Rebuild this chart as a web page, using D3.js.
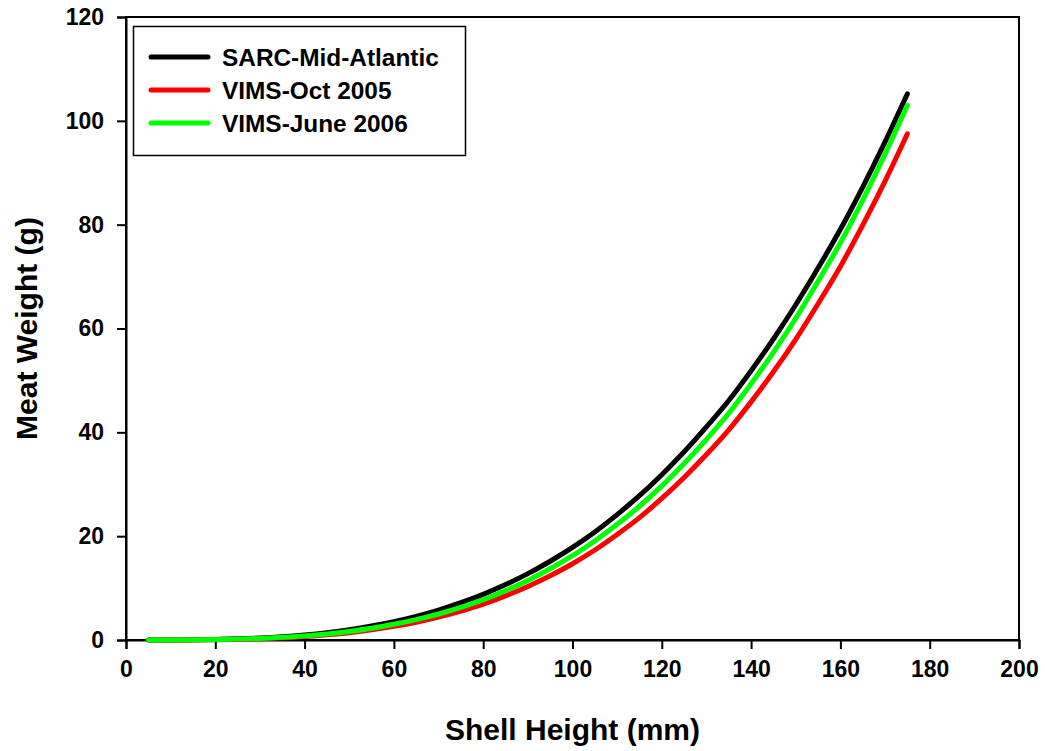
<!DOCTYPE html>
<html>
<head>
<meta charset="utf-8">
<script src="https://cdn.jsdelivr.net/npm/d3@7"></script>
<style>
  body { margin: 0; background: #fff; }
  svg text { font-family: Arial, "Liberation Sans", Helvetica, sans-serif; font-weight: bold; fill: #000; }
</style>
</head>
<body>
<div id="chart"></div>
<script>
// shell height (mm) for every series
var shellHeight = [5, 10, 15, 20, 25, 30, 35, 40, 45, 50, 55, 60, 65, 70, 75, 80, 85, 90,
    95, 100, 105, 110, 115, 120, 125, 130, 135, 140, 145, 150, 155, 160, 165, 170, 175];

// meat weight (g)
var sarcMidAtlantic = [0.00, 0.01, 0.04, 0.11, 0.22, 0.39, 0.64, 0.98, 1.42, 1.98, 2.69, 3.54,
    4.56, 5.77, 7.18, 8.79, 10.67, 12.78, 15.17, 17.83, 20.82, 24.16, 27.79, 31.84, 36.26,
    41.05, 46.14, 51.87, 57.98, 64.58, 71.65, 79.11, 87.25, 95.95, 105.2];
var vimsOct2005 = [0.00, 0.01, 0.02, 0.06, 0.14, 0.25, 0.42, 0.66, 0.99, 1.41, 1.95, 2.62,
    3.43, 4.41, 5.57, 6.91, 8.50, 10.30, 12.36, 14.69, 17.33, 20.33, 23.57, 27.27, 31.31,
    35.72, 40.48, 45.87, 51.66, 57.92, 64.77, 71.95, 79.91, 88.39, 97.5];
var vimsJune2006 = [0.00, 0.01, 0.03, 0.08, 0.17, 0.30, 0.51, 0.79, 1.17, 1.65, 2.26, 3.02,
    3.93, 5.01, 6.29, 7.77, 9.51, 11.48, 13.72, 16.23, 19.08, 22.28, 25.76, 29.68, 33.98,
    38.66, 43.67, 49.34, 55.40, 61.97, 69.11, 76.53, 84.75, 93.58, 103.0];

var seriesNames = ["SARC-Mid-Atlantic", "VIMS-Oct 2005", "VIMS-June 2006"];
var seriesColors = ["#000000", "#ff0000", "#00ff00"];
var xTicks = [0, 20, 40, 60, 80, 100, 120, 140, 160, 180, 200];
var yTicks = [0, 20, 40, 60, 80, 100, 120];

var series = [sarcMidAtlantic, vimsOct2005, vimsJune2006];

// set the dimensions and margins of the graph
var margin = { top: 17, right: 26, bottom: 111, left: 126 },
    width = 1045 - margin.left - margin.right,
    height = 751 - margin.top - margin.bottom;

var svg = d3.select("#chart")
    .append("svg")
    .attr("width", 1045)
    .attr("height", 751);

var g = svg.append("g")
    .attr("transform", "translate(" + margin.left + "," + margin.top + ")");

var x = d3.scaleLinear().domain([0, 200]).range([0, width]);
var y = d3.scaleLinear().domain([0, 120]).range([height, 0]);

// frame
g.append("rect")
    .attr("x", 0).attr("y", 0)
    .attr("width", width).attr("height", height)
    .attr("fill", "none")
    .attr("stroke", "#000")
    .attr("stroke-width", 2);

// X axis
var xAxis = g.append("g")
    .attr("transform", "translate(0," + height + ")")
    .call(d3.axisBottom(x).tickValues(xTicks).tickSize(9).tickPadding(12).tickFormat(d3.format("d")));

// Y axis
var yAxis = g.append("g")
    .call(d3.axisLeft(y).tickValues(yTicks).tickSize(9).tickPadding(13).tickFormat(d3.format("d")));

[xAxis, yAxis].forEach(function (a) {
    a.select(".domain").attr("stroke-width", 2);
    a.selectAll(".tick line").attr("stroke-width", 2);
    a.selectAll(".tick text").style("font-size", "23px");
});

// the curves
var line = d3.line()
    .x(function (d, i) { return x(shellHeight[i]); })
    .y(function (d) { return y(d); })
    .curve(d3.curveMonotoneX);

series.forEach(function (s, i) {
    g.append("path")
        .datum(s)
        .attr("fill", "none")
        .attr("stroke", seriesColors[i])
        .attr("stroke-width", 5)
        .attr("stroke-linecap", "round")
        .attr("stroke-linejoin", "round")
        .attr("d", line);
});

// axis titles
svg.append("text")
    .attr("x", margin.left + width / 2)
    .attr("y", 740)
    .attr("text-anchor", "middle")
    .style("font-size", "30px")
    .text("Shell Height (mm)");

svg.append("text")
    .attr("transform", "translate(37," + (margin.top + height / 2) + ") rotate(-90)")
    .attr("text-anchor", "middle")
    .style("font-size", "30px")
    .text("Meat Weight (g)");

// legend
var legend = svg.append("g");
legend.append("rect")
    .attr("x", 133.5).attr("y", 26.5)
    .attr("width", 332).attr("height", 129)
    .attr("fill", "#fff")
    .attr("stroke", "#000")
    .attr("stroke-width", 1.5);

seriesNames.forEach(function (name, i) {
    var ly = 57 + i * 33;
    legend.append("line")
        .attr("x1", 151).attr("x2", 208)
        .attr("y1", ly).attr("y2", ly)
        .attr("stroke", seriesColors[i])
        .attr("stroke-width", 5)
        .attr("stroke-linecap", "round");
    legend.append("text")
        .attr("x", 222)
        .attr("y", ly + 9)
        .style("font-size", "24.4px")
        .text(name);
});
</script>
</body>
</html>
